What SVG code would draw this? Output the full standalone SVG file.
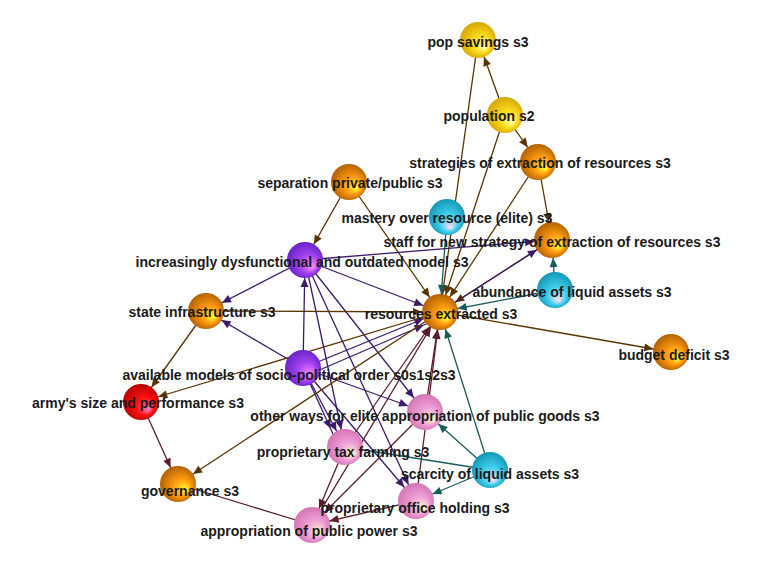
<svg xmlns="http://www.w3.org/2000/svg" width="778" height="565" viewBox="0 0 778 565">
<style>
.e{stroke-width:1.3;fill:none}
.b{stroke:#5a3400;marker-end:url(#mb)}
.p{stroke:#3c1a6a;marker-end:url(#mp)}
.t{stroke:#1c5a5a;marker-end:url(#mt)}
.m{stroke:#5a1c2c;marker-end:url(#mm)}
text{font-family:"Liberation Sans",Arial,sans-serif;font-weight:bold;font-size:14px;fill:#1a1a1a;text-anchor:middle}
</style>
<defs>
<marker id="mb" markerUnits="userSpaceOnUse" markerWidth="60" markerHeight="60" refX="0" refY="0" viewBox="-30 -30 60 60" orient="auto" overflow="visible"><path d="M-27,-4L-18,0L-27,4z" fill="#5a3400"/></marker>
<marker id="mp" markerUnits="userSpaceOnUse" markerWidth="60" markerHeight="60" refX="0" refY="0" viewBox="-30 -30 60 60" orient="auto" overflow="visible"><path d="M-27,-4L-18,0L-27,4z" fill="#3c1a6a"/></marker>
<marker id="mt" markerUnits="userSpaceOnUse" markerWidth="60" markerHeight="60" refX="0" refY="0" viewBox="-30 -30 60 60" orient="auto" overflow="visible"><path d="M-27,-4L-18,0L-27,4z" fill="#1c5a5a"/></marker>
<marker id="mm" markerUnits="userSpaceOnUse" markerWidth="60" markerHeight="60" refX="0" refY="0" viewBox="-30 -30 60 60" orient="auto" overflow="visible"><path d="M-27,-4L-18,0L-27,4z" fill="#5a1c2c"/></marker>
<radialGradient id="go" cx="0.5" cy="0.5" r="0.55" fx="0.72" fy="0.68"><stop offset="0" stop-color="#ffff30"/><stop offset="0.45" stop-color="#ff9a10"/><stop offset="1" stop-color="#a85a00"/></radialGradient>
<radialGradient id="gy" cx="0.5" cy="0.5" r="0.55" fx="0.7" fy="0.7"><stop offset="0" stop-color="#ffffc0"/><stop offset="0.4" stop-color="#ffe020"/><stop offset="1" stop-color="#d0a000"/></radialGradient>
<radialGradient id="gc" cx="0.5" cy="0.5" r="0.55" fx="0.6" fy="0.8"><stop offset="0" stop-color="#ffe0f0"/><stop offset="0.45" stop-color="#40d0f0"/><stop offset="1" stop-color="#1090b0"/></radialGradient>
<radialGradient id="gu" cx="0.5" cy="0.5" r="0.55" fx="0.72" fy="0.7"><stop offset="0" stop-color="#ff90ff"/><stop offset="0.5" stop-color="#a040f0"/><stop offset="1" stop-color="#6020c0"/></radialGradient>
<radialGradient id="gk" cx="0.5" cy="0.5" r="0.55" fx="0.72" fy="0.72"><stop offset="0" stop-color="#ffffc0"/><stop offset="0.45" stop-color="#f0a0d8"/><stop offset="1" stop-color="#d070b0"/></radialGradient>
<radialGradient id="gr" cx="0.5" cy="0.5" r="0.55" fx="0.72" fy="0.72"><stop offset="0" stop-color="#ff80c0"/><stop offset="0.45" stop-color="#ff1010"/><stop offset="1" stop-color="#b00000"/></radialGradient>
</defs>
<g id="connectors">
<line class="e b" x1="505" y1="115" x2="478" y2="40"/>
<line class="e b" x1="478" y1="40" x2="440" y2="312"/>
<line class="e b" x1="505" y1="115" x2="538" y2="162"/>
<line class="e b" x1="505" y1="115" x2="440" y2="312"/>
<line class="e b" x1="538" y1="162" x2="440" y2="312"/>
<line class="e b" x1="538" y1="162" x2="552" y2="240"/>
<line class="e b" x1="349" y1="182" x2="305" y2="260"/>
<line class="e b" x1="349" y1="182" x2="440" y2="312"/>
<line class="e t" x1="447" y1="217" x2="440" y2="312"/>
<line class="e b" x1="552" y1="240" x2="440" y2="312"/>
<line class="e p" x1="440" y1="312" x2="552" y2="240"/>
<line class="e p" x1="305" y1="260" x2="552" y2="240"/>
<line class="e t" x1="555" y1="290" x2="552" y2="240"/>
<line class="e t" x1="555" y1="290" x2="440" y2="312"/>
<line class="e p" x1="305" y1="260" x2="440" y2="312"/>
<line class="e p" x1="305" y1="260" x2="206" y2="311"/>
<line class="e p" x1="305" y1="260" x2="345" y2="447"/>
<line class="e p" x1="305" y1="260" x2="425" y2="412"/>
<line class="e p" x1="305" y1="260" x2="416" y2="501"/>
<line class="e b" x1="206" y1="311" x2="440" y2="312"/>
<line class="e b" x1="206" y1="311" x2="141" y2="402"/>
<line class="e b" x1="440" y1="312" x2="671" y2="352"/>
<line class="e p" x1="303" y1="368" x2="305" y2="260"/>
<line class="e p" x1="303" y1="368" x2="206" y2="311"/>
<line class="e p" x1="303" y1="368" x2="440" y2="312"/>
<line class="e p" x1="308" y1="375" x2="440" y2="318"/>
<line class="e p" x1="303" y1="368" x2="425" y2="412"/>
<line class="e p" x1="303" y1="368" x2="345" y2="447"/>
<line class="e p" x1="303" y1="368" x2="416" y2="501"/>
<line class="e p" x1="303" y1="368" x2="338" y2="445"/>
<line class="e b" x1="440" y1="312" x2="141" y2="402"/>
<line class="e b" x1="440" y1="312" x2="178" y2="484"/>
<line class="e m" x1="141" y1="402" x2="178" y2="484"/>
<line class="e m" x1="345" y1="447" x2="440" y2="312"/>
<line class="e m" x1="425" y1="412" x2="440" y2="312"/>
<line class="e m" x1="416" y1="501" x2="440" y2="312"/>
<line class="e m" x1="312" y1="525" x2="440" y2="312"/>
<line class="e m" x1="312" y1="525" x2="178" y2="484" style="marker-end:none"/>
<line class="e m" x1="416" y1="501" x2="312" y2="525"/>
<line class="e m" x1="425" y1="412" x2="312" y2="525"/>
<line class="e m" x1="345" y1="447" x2="312" y2="525"/>
<line class="e t" x1="490" y1="470" x2="425" y2="412"/>
<line class="e t" x1="490" y1="470" x2="416" y2="501"/>
<line class="e t" x1="490" y1="470" x2="440" y2="312"/>
<line class="e t" x1="490" y1="470" x2="345" y2="447" style="marker-end:none"/>
</g>
<g id="n-pop-savings"><circle cx="478" cy="40" r="18" fill="url(#gy)"/></g>
<g id="n-population"><circle cx="505" cy="115" r="18" fill="url(#gy)"/></g>
<g id="n-strategies"><circle cx="538" cy="162" r="18" fill="url(#go)"/></g>
<g id="n-separation"><circle cx="349" cy="182" r="18" fill="url(#go)"/></g>
<g id="n-mastery"><circle cx="447" cy="217" r="18" fill="url(#gc)"/></g>
<g id="n-staff"><circle cx="552" cy="240" r="18" fill="url(#go)"/></g>
<g id="n-increasingly"><circle cx="305" cy="260" r="18" fill="url(#gu)"/></g>
<g id="n-abundance"><circle cx="555" cy="290" r="18" fill="url(#gc)"/></g>
<g id="n-state"><circle cx="206" cy="311" r="18" fill="url(#go)"/></g>
<g id="n-resources"><circle cx="440" cy="312" r="18" fill="url(#go)"/></g>
<g id="n-budget"><circle cx="671" cy="352" r="18" fill="url(#go)"/></g>
<g id="n-available"><circle cx="303" cy="368" r="18" fill="url(#gu)"/></g>
<g id="n-army"><circle cx="141" cy="402" r="18" fill="url(#gr)"/></g>
<g id="n-otherways"><circle cx="425" cy="412" r="18" fill="url(#gk)"/></g>
<g id="n-taxfarming"><circle cx="345" cy="447" r="18" fill="url(#gk)"/></g>
<g id="n-scarcity"><circle cx="490" cy="470" r="18" fill="url(#gc)"/></g>
<g id="n-governance"><circle cx="178" cy="484" r="18" fill="url(#go)"/></g>
<g id="n-officeholding"><circle cx="416" cy="501" r="18" fill="url(#gk)"/></g>
<g id="n-appropriation"><circle cx="312" cy="525" r="18" fill="url(#gk)"/></g>
<g id="labels">
<text x="478" y="47">pop savings s3</text>
<text x="489" y="121">population s2</text>
<text x="540" y="168">strategies of extraction of resources s3</text>
<text x="350" y="188">separation private/public s3</text>
<text x="447" y="223">mastery over resource (elite) s3</text>
<text x="552" y="247">staff for new strategy of extraction of resources s3</text>
<text x="302" y="267">increasingly dysfunctional and outdated model s3</text>
<text x="572" y="297">abundance of liquid assets s3</text>
<text x="202" y="317">state infrastructure s3</text>
<text x="441" y="319">resources extracted s3</text>
<text x="674" y="360">budget deficit s3</text>
<text x="289" y="380">available models of socio-political order s0s1s2s3</text>
<text x="138" y="408">army's size and performance s3</text>
<text x="425" y="421">other ways for elite appropriation of public goods s3</text>
<text x="343" y="457">proprietary tax farming s3</text>
<text x="490" y="479">scarcity of liquid assets s3</text>
<text x="190" y="496">governance s3</text>
<text x="415" y="513">proprietary office holding s3</text>
<text x="309" y="536">appropriation of public power  s3</text>
</g>
</svg>
